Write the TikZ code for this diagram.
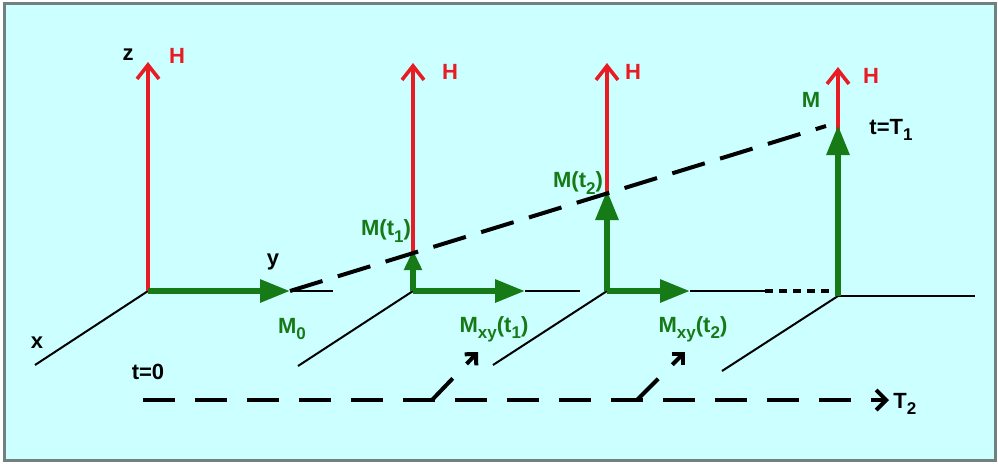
\documentclass[tikz,border=0pt]{standalone}
\usepackage{fontspec}
\setmainfont{Liberation Sans}
\usepackage{tikz}
\usetikzlibrary{positioning,arrows.meta}
\definecolor{bgcyan}{RGB}{204,255,255}
\definecolor{framegray}{RGB}{115,128,128}
\definecolor{fieldred}{RGB}{232,28,36}
\definecolor{magngreen}{RGB}{22,122,22}
\newcommand{\sub}[1]{\raisebox{-0.55ex}{\fontsize{8.5}{9}\selectfont #1}}

\begin{document}
\begin{tikzpicture}[x=0.5pt,y=-0.5pt,%
font=\fontsize{11}{12}\selectfont\bfseries,inner sep=1pt,%
axis/.style={black,line width=1pt},%
field/.style={fieldred,line width=1.8pt,-{Straight Barb[length=7pt,width=11pt,line width=1.8pt]}},%
magn/.style={magngreen,line width=3pt,-{Triangle[length=15pt,width=11pt]}},%
magnsmall/.style={magngreen,line width=3pt,-{Triangle[length=10pt,width=8.5pt]}},%
trace/.style={black,line width=2pt,dash pattern=on 17pt off 8pt},%
timeline/.style={black,line width=2pt,dash pattern=on 16pt off 10pt},%
step arrow/.style={black,line width=2pt,dash pattern=on 15pt off 10pt,%
  -{Straight Barb[length=4pt,width=8pt,line width=2pt]}},%
blk/.style={black},grn/.style={magngreen},rd/.style={fieldred}]
%\draw[help lines] (0,0) grid (998,463);
\useasboundingbox (0,0) rectangle (998,463);
\draw[framegray,fill=bgcyan,line width=1.5pt] (4.5,3) rectangle (995,460);

% origins of the four frames
\coordinate (O0) at (148,291);
\coordinate (O1) at (413,291);
\coordinate (O2) at (607,291);
\coordinate (O3) at (838,296);
\coordinate (H0) at (148,62);
\coordinate (H1) at (413,63);
\coordinate (H2) at (607,63);
\coordinate (H3) at (838,67);
\coordinate (X0) at (35,365);
\coordinate (X1) at (298,366);
\coordinate (X2) at (493,365);
\coordinate (X3) at (722,371);
\coordinate (M0) at (290,291);
\coordinate (Y0) at (333,291);
\coordinate (Mz1) at (413,250);
\coordinate (Mxy1) at (525,291);
\coordinate (Y1) at (580,291);
\coordinate (Mz2) at (607,190);
\coordinate (Mxy2) at (690,291);
\coordinate (Y2a) at (765,291);
\coordinate (Y2b) at (835,291);
\coordinate (Mz3) at (838,125);
\coordinate (Y3) at (975,296);
\coordinate (Tend) at (826,126);
\coordinate (T0) at (143,400);
\coordinate (T2a) at (875,400);
\coordinate (T2) at (889,400);
\coordinate (S1) at (432,400);
\coordinate (S1e) at (478,352);
\coordinate (S2) at (637,400);
\coordinate (S2e) at (685,352);

% axes
\draw[axis] (O0) -- (X0);
\draw[axis] (O1) -- (X1);
\draw[axis] (O2) -- (X2);
\draw[axis] (O3) -- (X3);
\draw[axis] (M0) -- (Y0);
\draw[axis] (Mxy1) -- (Y1);
\draw[axis] (Mxy2) -- (Y2a);
\draw[axis,line width=2pt,dash pattern=on 4pt off 3pt] (Y2a) -- (Y2b);
\draw[axis] (O3) -- (Y3);

% field
\draw[field] (O0) -- (H0);
\draw[field] (O1) -- (H1);
\draw[field] (O2) -- (H2);
\draw[field] (O3) -- (H3);

% magnetisation
\draw[magn] (O0) -- (M0);
\draw[magnsmall] (O1) -- (Mz1);
\draw[magn] (O1) -- (Mxy1);
\draw[magn] (O2) -- (Mz2);
\draw[magn] (O2) -- (Mxy2);
\draw[magn] (O3) -- (Mz3);

% growth of M_z and the time axis
\draw[trace] (M0) -- (Tend);
\draw[timeline] (T0) -- (T2a);
\draw[black,line width=2pt,-{Straight Barb[length=5pt,width=10pt,line width=2pt]}]
  (T2a) -- (T2);
\draw[step arrow] (S1) -- (S1e);
\draw[step arrow] (S2) -- (S2e);

% labels
\node[blk] (lz)   at (128,55)  {z};
\node[blk] (lx)   at (37,343)  {x};
\node[blk] (ly)   at (273,262) {y};
\node[rd]  (lH0)  at (177,56)  {H};
\node[rd]  (lH1)  at (450,72)  {H};
\node[rd]  (lH2)  at (633,72)  {H};
\node[rd]  (lH3)  at (871,76)  {H};
\node[grn] (lM0)  at (292,329) {M\sub{0}};
\node[grn] (lMt1) at (386,231) {M(t\sub{1})};
\node[grn] (lMt2) at (578,183) {M(t\sub{2})};
\node[grn] (lM)   at (811,100) {M};
\node[grn] (lxy1) at (494,329) {M\sub{xy}(t\sub{1})};
\node[grn] (lxy2) at (693,329) {M\sub{xy}(t\sub{2})};
\node[blk] (lT1)  at (891,130) {t=T\sub{1}};
\node[blk] (lt0)  at (148,372) {t=0};
\node[blk,right=1pt of T2,yshift=-2pt] (lT2) {T\sub{2}};
\end{tikzpicture}
\end{document}
